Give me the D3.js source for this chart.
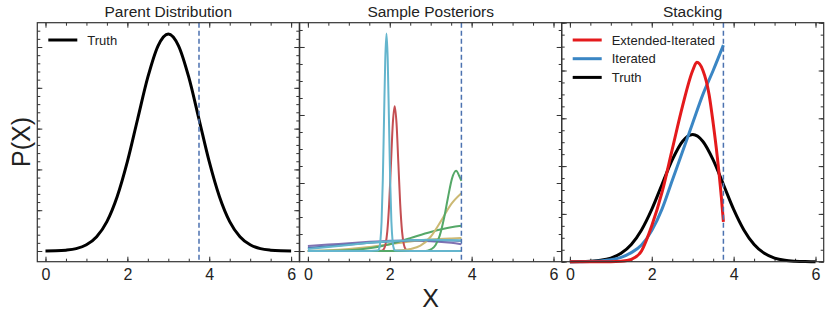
<!DOCTYPE html>
<html>
<head>
<meta charset="utf-8">
<script src="https://cdn.jsdelivr.net/npm/d3@7"></script>
<style>
  body { margin: 0; background: #fff; }
  svg { font-family: "Liberation Sans", Arial, sans-serif; }
  .axis path { display: none; }
  .axis line { stroke: #333; stroke-width: 1; }
  .axis text { fill: #222; font-size: 16px; }
</style>
</head>
<body>
<svg id="chart" width="830" height="319"></svg>
<script>
// ---- data ----
const panelTitles = ['Parent Distribution', 'Sample Posteriors', 'Stacking'];
const xTicks = [0, 2, 4, 6];
const cutoff = 3.75;

// parent distribution (truth)
const truthX = [0, 0.25, 0.5, 0.75, 1, 1.25, 1.5, 1.75, 2, 2.25, 2.5, 2.75, 3,
                3.25, 3.5, 3.75, 4, 4.25, 4.5, 4.75, 5, 5.25, 5.5, 5.75, 6];
const truthY = [0.0002, 0.0006, 0.0021, 0.0059, 0.0152, 0.035, 0.072, 0.133, 0.219, 0.323, 0.426, 0.503, 0.532,
                0.503, 0.426, 0.323, 0.219, 0.133, 0.072, 0.035, 0.0152, 0.0059, 0.0021, 0.0006, 0.0002];

// sample posteriors (arbitrary units, 1 = one major tick)
const broadX = [0, 0.5, 1, 1.5, 2, 2.5, 3, 3.5, 3.75];
const purpleBroadY = [0.075, 0.095, 0.115, 0.135, 0.15, 0.155, 0.145, 0.12, 0.1];
const blueBroadY = [0.045, 0.07, 0.095, 0.12, 0.14, 0.155, 0.16, 0.155, 0.15];
const cyanBroadY = [0.03, 0.06, 0.09, 0.12, 0.145, 0.16, 0.165, 0.16, 0.155];
const yellowBroadY = [0.0, 0.01, 0.03, 0.06, 0.1, 0.14, 0.17, 0.185, 0.19];
const greenBroadY = [0.0, 0.003, 0.01, 0.04, 0.1, 0.19, 0.28, 0.35, 0.37];

const cyanSpikeX = [0, 1.5, 1.71, 1.74, 1.77, 1.80, 1.83, 1.86, 1.89, 1.92, 1.95, 1.98, 2.01, 2.04, 2.07, 2.10, 2.13, 2.5, 3.75];
const cyanSpikeY = [0, 0, 0.007, 0.035, 0.14, 0.43, 1.04, 1.94, 2.82, 3.2, 2.82, 1.94, 1.04, 0.43, 0.14, 0.035, 0.007, 0, 0];

const redSpikeX = [0, 1.5, 1.805, 1.85, 1.895, 1.94, 1.985, 2.03, 2.075, 2.12, 2.165, 2.21, 2.255, 2.30, 2.345, 2.39, 2.435, 2.8, 3.75];
const redSpikeY = [0, 0, 0.005, 0.024, 0.094, 0.29, 0.69, 1.29, 1.88, 2.13, 1.88, 1.29, 0.69, 0.29, 0.094, 0.024, 0.005, 0, 0];

const greenPeakX = [0, 2.5, 2.82, 2.92, 3.02, 3.12, 3.22, 3.32, 3.42, 3.52, 3.62, 3.70, 3.75];
const greenPeakY = [0, 0, 0.001, 0.006, 0.029, 0.089, 0.226, 0.466, 0.78, 1.065, 1.18, 1.10, 1.03];

const yellowRiseX = [0, 2.0, 2.25, 2.5, 2.75, 3.0, 3.25, 3.5, 3.75];
const yellowRiseY = [0, 0.002, 0.01, 0.03, 0.08, 0.21, 0.44, 0.69, 0.85];

// stacking
const extendedX = [0, 1.0, 1.25, 1.5, 1.75, 2.0, 2.25, 2.5, 2.75, 3.0, 3.1, 3.25, 3.4, 3.5, 3.6, 3.7, 3.75];
const extendedY = [0, 0, 0.002, 0.01, 0.045, 0.15, 0.29, 0.47, 0.65, 0.80, 0.834, 0.80, 0.70, 0.58, 0.44, 0.27, 0.167];
const iteratedX = [0, 0.5, 0.75, 1.0, 1.25, 1.5, 1.75, 2.0, 2.25, 2.5, 2.75, 3.0, 3.25, 3.5, 3.75];
const iteratedY = [0, 0.001, 0.003, 0.008, 0.018, 0.038, 0.07, 0.13, 0.22, 0.34, 0.46, 0.58, 0.70, 0.80, 0.906];

// ---- layout ----
const svg = d3.select('#chart');
const plotTop = 22.7, plotBottom = 261.7;
const panelLeft = [37.3, 299.7, 561.7];
const panelW = 262;

const yDomains = [[-0.0262, 0.5596], [-0.157, 3.357], [0, 1]];
const yMajor = [d3.range(0, 0.51, 0.1), d3.range(0, 3.1, 1), d3.range(0, 1.01, 0.2)];
const yMinor = [d3.range(0, 0.55, 0.02), d3.range(0, 3.3, 0.25), d3.range(0, 1.01, 0.05)];
const xMinor = d3.range(0, 6.01, 0.5);

const deep = { blue: '#4c72b0', green: '#55a868', red: '#c44e52', purple: '#8172b2', yellow: '#ccb974', cyan: '#64b5cd' };

function line(x, y, xs, ys) {
  return d3.line().x(i => x(xs[i])).y(i => y(ys[i])).curve(d3.curveMonotoneX)(d3.range(xs.length));
}

const panels = panelLeft.map((left, p) => {
  const x = d3.scaleLinear().domain([-0.2, 6.2]).range([left, left + panelW]);
  const y = d3.scaleLinear().domain(yDomains[p]).range([plotBottom, plotTop]);
  const g = svg.append('g');

  const addAxis = (axis, tx, ty, labels) => {
    const a = g.append('g').attr('class', 'axis').attr('transform', `translate(${tx},${ty})`).call(axis);
    if (!labels) a.selectAll('text').remove();
    return a;
  };
  // minor ticks
  addAxis(d3.axisBottom(x).tickValues(xMinor).tickSize(-3), 0, plotBottom, false);
  addAxis(d3.axisTop(x).tickValues(xMinor).tickSize(-3), 0, plotTop, false);
  addAxis(d3.axisLeft(y).tickValues(yMinor[p]).tickSize(-3), left, 0, false);
  addAxis(d3.axisRight(y).tickValues(yMinor[p]).tickSize(-3), left + panelW, 0, false);
  // major ticks
  addAxis(d3.axisBottom(x).tickValues(xTicks).tickSize(-5).tickPadding(7).tickFormat(d3.format('d')), 0, plotBottom, true);
  addAxis(d3.axisTop(x).tickValues(xTicks).tickSize(-5), 0, plotTop, false);
  addAxis(d3.axisLeft(y).tickValues(yMajor[p]).tickSize(-5), left, 0, false);
  addAxis(d3.axisRight(y).tickValues(yMajor[p]).tickSize(-5), left + panelW, 0, false);

  g.append('text')
    .attr('x', left + panelW / 2).attr('y', 17)
    .attr('text-anchor', 'middle')
    .style('font-size', '15.5px').style('fill', '#222')
    .text(panelTitles[p]);

  const plot = g.append('g');
  return { x, y, g, plot, left };
});

// panel 1: parent distribution
{
  const { x, y, plot } = panels[0];
  plot.append('path').attr('d', line(x, y, truthX, truthY))
    .attr('fill', 'none').attr('stroke', '#000').attr('stroke-width', 3);
}

// panel 2: sample posteriors
{
  const { x, y, plot } = panels[1];
  const series = [
    [broadX, purpleBroadY, deep.purple],
    [broadX, yellowBroadY, deep.yellow],
    [broadX, greenBroadY, deep.green],
    [redSpikeX, redSpikeY, deep.red],
    [yellowRiseX, yellowRiseY, deep.yellow],
    [greenPeakX, greenPeakY, deep.green],
    [broadX, blueBroadY, deep.blue],
    [cyanSpikeX, cyanSpikeY, deep.cyan],
    [broadX, cyanBroadY, deep.cyan]
  ];
  series.forEach(([xs, ys, c]) => {
    plot.append('path').attr('d', line(x, y, xs, ys))
      .attr('fill', 'none').attr('stroke', c).attr('stroke-width', 2);
  });
}

// panel 3: stacking
{
  const { x, y, plot } = panels[2];
  plot.append('path').attr('d', line(x, y, truthX, truthY))
    .attr('fill', 'none').attr('stroke', '#000').attr('stroke-width', 3);
  plot.append('path').attr('d', line(x, y, iteratedX, iteratedY))
    .attr('fill', 'none').attr('stroke', '#3a86c4').attr('stroke-width', 3);
  plot.append('path').attr('d', line(x, y, extendedX, extendedY))
    .attr('fill', 'none').attr('stroke', '#e41a1c').attr('stroke-width', 3);
}

// cutoff line + frames
panels.forEach(({ x, g, left }) => {
  g.append('line')
    .attr('x1', x(cutoff)).attr('x2', x(cutoff))
    .attr('y1', plotTop).attr('y2', plotBottom)
    .attr('stroke', deep.blue).attr('stroke-width', 1.5)
    .attr('stroke-dasharray', '5,3');
  g.append('rect')
    .attr('x', left).attr('y', plotTop).attr('width', panelW).attr('height', plotBottom - plotTop)
    .attr('fill', 'none').attr('stroke', '#333').attr('stroke-width', 1.2);
});

// legends
function legend(panel, items) {
  const lg = panel.g.append('g');
  items.forEach(([label, color], i) => {
    const yy = 40 + i * 18.7;
    lg.append('line')
      .attr('x1', panel.left + 11).attr('x2', panel.left + 40)
      .attr('y1', yy).attr('y2', yy)
      .attr('stroke', color).attr('stroke-width', 3);
    lg.append('text')
      .attr('x', panel.left + 50).attr('y', yy + 4.5)
      .style('font-size', '13px').style('fill', '#222')
      .text(label);
  });
}
legend(panels[0], [['Truth', '#000']]);
legend(panels[2], [['Extended-Iterated', '#e41a1c'], ['Iterated', '#3a86c4'], ['Truth', '#000']]);

// axis labels
svg.append('text')
  .attr('transform', 'translate(30,142) rotate(-90)')
  .attr('text-anchor', 'middle')
  .style('font-size', '25px').style('fill', '#222')
  .text('P(X)');
svg.append('text')
  .attr('x', panels[1].left + panelW / 2).attr('y', 306.5)
  .attr('text-anchor', 'middle')
  .style('font-size', '25px').style('fill', '#222')
  .text('X');
</script>
</body>
</html>
